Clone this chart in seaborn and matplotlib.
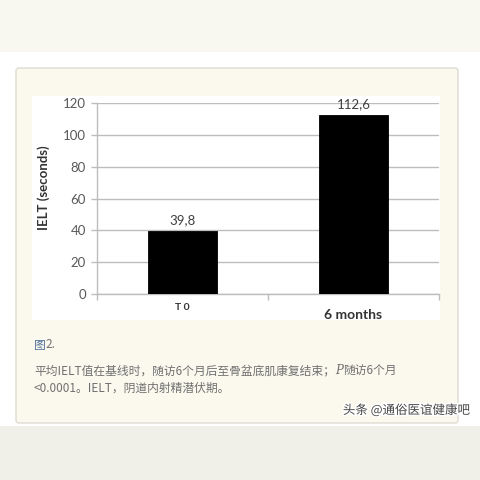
import matplotlib
matplotlib.use("Agg")
import matplotlib.pyplot as plt
import seaborn as sns
import pandas as pd
from matplotlib.patches import Rectangle, FancyBboxPatch
import matplotlib.patheffects as pe
from matplotlib.transforms import blended_transform_factory

# ---- data ----
categories = ["T 0", "6 months"]
ielt_values = [39.8, 112.6]
value_labels = ["39,8", "112,6"]
y_ticks = [0, 20, 40, 60, 80, 100, 120]
y_label = "IELT (seconds)"
fig_title = "图"
fig_num = "2."
caption_line1 = ["平均IELT值在基线时，随访6个月后至骨盆底肌康复结束；", "P", "随访6个月"]
caption_line2 = "<0.0001。IELT，阴道内射精潜伏期。"
watermark = "头条 @通俗医谊健康吧"

sns.set_theme(style="white")
plt.rcParams["font.family"] = ["Lato", "DejaVu Sans"]
CJK = ["Noto Sans CJK SC", "DejaVu Sans"]

W = H = 480
fig = plt.figure(figsize=(4.8, 4.8), dpi=100)
fig.patch.set_facecolor("white")

def fx(x): return x / W
def fy(y): return 1 - y / H

# page background pieces
fig.patches.append(Rectangle((0, fy(52)), 1, 52 / H, transform=fig.transFigure,
                             facecolor="#f9f8f0", edgecolor="none", zorder=0))
fig.patches.append(Rectangle((0, 0), 1, fy(426), transform=fig.transFigure,
                             facecolor="#f1f0e8", edgecolor="none", zorder=0))
# card
fig.patches.append(FancyBboxPatch((fx(16), fy(423)), (458 - 16) / W, (423 - 68) / H,
                                  boxstyle="round,pad=0,rounding_size=0.006",
                                  transform=fig.transFigure, facecolor="#fbf9ee",
                                  edgecolor="#dedcd2", linewidth=1.0, zorder=1))
# white chart area
fig.patches.append(Rectangle((fx(32), fy(320)), (440 - 32) / W, (320 - 96) / H,
                             transform=fig.transFigure, facecolor="white",
                             edgecolor="none", zorder=2))

ax = fig.add_axes([fx(97), fy(294), (439 - 97) / W, (294 - 103) / H])
ax.set_zorder(3)
ax.patch.set_alpha(0)

df = pd.DataFrame({"cat": categories, "val": ielt_values})
sns.barplot(data=df, x="cat", y="val", color="black", width=0.4, ax=ax,
            saturation=1, edgecolor="black", linewidth=0.6, zorder=3)
ax.set_xlim(-0.5, 1.5)
ax.set_ylim(0, 120)
ax.set_yticks(y_ticks)
ax.set_yticklabels([str(t) for t in y_ticks], fontsize=9.5, color="#595959")
ax.yaxis.grid(True, color="#bdbdbd", linewidth=1.0, zorder=0)
ax.set_axisbelow(True)
ax.xaxis.grid(False)
for s in ["top", "right"]:
    ax.spines[s].set_visible(False)
ax.spines["left"].set_color("#bdbdbd")
ax.spines["bottom"].set_color("#bdbdbd")
ax.spines["left"].set_linewidth(1.0)
ax.spines["bottom"].set_linewidth(1.0)
ax.tick_params(axis="y", which="major", left=True, length=4, width=1,
               color="#bdbdbd", pad=4)
ax.set_xticks([0, 1])
ax.set_xticklabels(["", ""])
ax.tick_params(axis="x", which="major", length=0)
ax.set_xticks([-0.5, 0.5, 1.5], minor=True)
ax.tick_params(axis="x", which="minor", bottom=True, length=4, width=1, color="#bdbdbd")
ax.set_xlabel("")
ax.set_ylabel(y_label, fontsize=9.5, fontweight="bold", color="#333333")
ax.yaxis.set_label_coords((50 - 97) / 342, (294 - 188) / 191)

ax.bar_label(ax.containers[0], labels=value_labels, padding=3, fontsize=9.5,
             color="#404040")

trans = blended_transform_factory(ax.transData, fig.transFigure)
ax.text(0, fy(307), categories[0], transform=trans, ha="center", va="center",
        fontsize=7.5, fontweight="bold", color="#333333")
ax.text(1, fy(315), categories[1], transform=trans, ha="center", va="center",
        fontsize=10, fontweight="bold", color="#333333")

# caption, chained texts
fig.canvas.draw()
r = fig.canvas.get_renderer()

def chain(pieces, x0, y, **common):
    x = x0
    for txt, kw in pieces:
        t = fig.text(x / W, fy(y), txt, ha="left", va="center", zorder=5,
                     **{**common, **kw})
        bb = t.get_window_extent(r)
        x = bb.x1

chain([(fig_title, dict(color="#55739c")), (fig_num, dict(color="#707070"))],
      34, 345, fontsize=8.5, family=CJK)
chain([(caption_line1[0], {}),
       (caption_line1[1], dict(style="italic", family=["DejaVu Serif"])),
       (caption_line1[2], {})], 34, 371, fontsize=8.5, family=CJK, color="#707070")
fig.text(fx(34), fy(388), caption_line2, ha="left", va="center", fontsize=8.5,
         family=CJK, color="#707070", zorder=5)

fig.text(fx(470), fy(410), watermark, ha="right", va="center", fontsize=9,
         family=CJK, color="#444444", zorder=6,
         path_effects=[pe.withStroke(linewidth=2, foreground="white")])

fig.savefig("out.png", dpi=100)
